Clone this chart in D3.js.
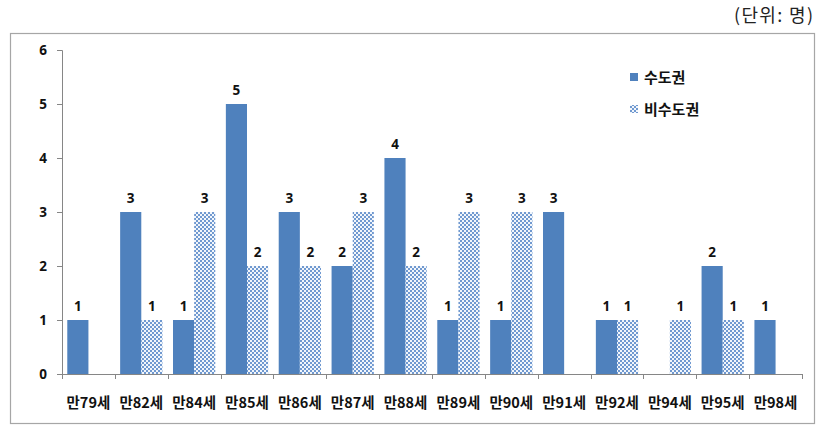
<!DOCTYPE html>
<html><head><meta charset="utf-8">
<script src="https://cdn.jsdelivr.net/npm/d3@7"></script>
<style>
body{margin:0;background:#fff;}
svg{display:block;font-family:"Noto Sans CJK KR","Noto Sans",sans-serif;}
</style></head>
<body><svg id="c" width="822" height="432"></svg>
<script>
const categories = ["만79세","만82세","만84세","만85세","만86세","만87세","만88세","만89세","만90세","만91세","만92세","만94세","만95세","만98세"];
const seriesNames = ["수도권","비수도권"];
const capital = [1,3,1,5,3,2,4,1,1,3,1,null,2,1];
const nonCapital = [null,1,3,2,2,3,2,3,3,null,1,1,1,null];
const yTicks = [0,1,2,3,4,5,6];
const unitLabel = "(단위: 명)";

const svg = d3.select("#c");
const defs = svg.append("defs");
const pat = defs.append("pattern").attr("id","chk").attr("patternUnits","userSpaceOnUse")
  .attr("width",4).attr("height",4);
pat.append("rect").attr("width",4).attr("height",4).attr("fill","#F2F6FB");
pat.append("rect").attr("x",0).attr("y",0).attr("width",2).attr("height",2).attr("fill","#7099D0");
pat.append("rect").attr("x",2).attr("y",2).attr("width",2).attr("height",2).attr("fill","#7099D0");

// outer frame
svg.append("rect").attr("x",10.5).attr("y",33.5).attr("width",804).attr("height",390)
  .attr("fill","none").attr("stroke","#A6A6A6").attr("stroke-width",1.2);

svg.append("text").attr("x",813).attr("y",22).attr("text-anchor","end")
  .attr("font-size",18).attr("fill","#222").attr("textLength",79).text(unitLabel);

const L=62, R=802, T=50, B=374;
const x = d3.scaleBand().domain(categories).range([L,R]).padding(0);
const xi = d3.scaleBand().domain(seriesNames).range([0,x.bandwidth()]).paddingInner(0).paddingOuter(0.25);
const y = d3.scaleLinear().domain([0,6]).range([B,T]);

// y axis
const yAxis = d3.axisLeft(y).tickValues(yTicks).tickSize(5).tickFormat(d3.format("d"));
const gy = svg.append("g").attr("transform",`translate(${L},0)`).call(yAxis);
gy.select(".domain").attr("stroke","#868686");
gy.selectAll(".tick line").attr("stroke","#868686");
gy.selectAll(".tick text").attr("x",-15).attr("font-size",13.5).attr("font-weight","bold").attr("fill","#111").attr("font-family","'Noto Sans', sans-serif");

// x axis
const gx = svg.append("g").attr("transform",`translate(0,${B})`);
gx.append("line").attr("x1",L).attr("x2",R).attr("y1",0.5).attr("y2",0.5).attr("stroke","#868686");
const bounds = categories.map(c=>x(c)).concat([R]);
gx.selectAll("line.tk").data(bounds).join("line").attr("class","tk")
  .attr("x1",d=>Math.round(d)+0.5).attr("x2",d=>Math.round(d)+0.5).attr("y1",0).attr("y2",5).attr("stroke","#868686");
gx.selectAll("text").data(categories).join("text")
  .attr("x",d=>x(d)+x.bandwidth()/2).attr("y",34).attr("text-anchor","middle")
  .attr("font-size",14.5).attr("font-weight","bold").attr("fill","#111").text(d=>d);

// bars
const data = [];
categories.forEach((c,i)=>{
  data.push({c, s:seriesNames[0], v:capital[i]});
  data.push({c, s:seriesNames[1], v:nonCapital[i]});
});
const valid = data.filter(d=>d.v!=null);
svg.append("g").selectAll("rect").data(valid).join("rect")
  .attr("x",d=>x(d.c)+xi(d.s)).attr("width",xi.bandwidth())
  .attr("y",d=>y(d.v)).attr("height",d=>B-y(d.v))
  .attr("fill",d=>d.s===seriesNames[0]?"#4F81BD":"url(#chk)");
svg.append("g").selectAll("text").data(valid).join("text")
  .attr("x",d=>x(d.c)+xi(d.s)+xi.bandwidth()/2).attr("y",d=>y(d.v)-9)
  .attr("text-anchor","middle").attr("font-size",13.5).attr("font-weight","bold").attr("fill","#111")
  .attr("font-family","'Noto Sans', sans-serif").text(d=>d.v);

// legend
const lg = svg.append("g");
seriesNames.forEach((s,i)=>{
  const yy = 77 + i*32;
  lg.append("rect").attr("x",630).attr("y",yy-4).attr("width",8).attr("height",8)
    .attr("fill",i===0?"#4F81BD":"url(#chk)");
  lg.append("text").attr("x",644).attr("y",yy+5.5).attr("font-size",15).attr("font-weight","bold").attr("fill","#111").text(s);
});
</script></body></html>
